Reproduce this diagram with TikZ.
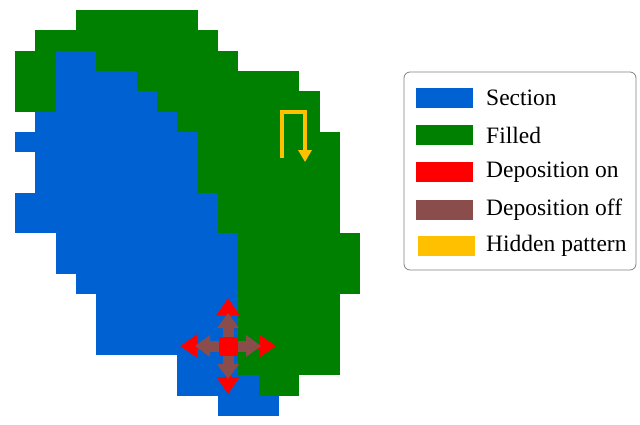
\documentclass[tikz,border=0pt]{standalone}
\usepackage{fontspec}
\setmainfont{Liberation Serif}
\usetikzlibrary{arrows.meta}
\definecolor{sec}{HTML}{0062D2}
\definecolor{fil}{HTML}{008000}
\definecolor{don}{HTML}{FF0000}
\definecolor{doff}{HTML}{8B4C4C}
\definecolor{hid}{HTML}{FFC000}
\newcommand\seg[4]{\fill[#4] ({15+#2*20.3},{10+#1*20.3}) rectangle ({15+(#3+1)*20.3},{10+(#1+1)*20.3});}
\begin{document}
\begin{tikzpicture}[x=1pt,y=-1pt,
  sw/.style={minimum width=57pt,minimum height=20pt,inner sep=0pt},
  lab/.style={anchor=west,font=\fontsize{23.5}{24}\selectfont,inner sep=0pt}]
\useasboundingbox (0,0) rectangle (640,424);
\seg{0}{3}{8}{fil}
\seg{1}{1}{9}{fil}
\seg{2}{0}{1}{fil}\seg{2}{2}{3}{sec}\seg{2}{4}{10}{fil}
\seg{3}{0}{1}{fil}\seg{3}{2}{5}{sec}\seg{3}{6}{13}{fil}
\seg{4}{0}{1}{fil}\seg{4}{2}{6}{sec}\seg{4}{7}{14}{fil}
\seg{5}{1}{7}{sec}\seg{5}{8}{14}{fil}
\seg{6}{0}{8}{sec}\seg{6}{9}{15}{fil}
\seg{7}{1}{8}{sec}\seg{7}{9}{15}{fil}
\seg{8}{1}{8}{sec}\seg{8}{9}{15}{fil}
\seg{9}{0}{9}{sec}\seg{9}{10}{15}{fil}
\seg{10}{0}{9}{sec}\seg{10}{10}{15}{fil}
\seg{11}{2}{10}{sec}\seg{11}{11}{16}{fil}
\seg{12}{2}{10}{sec}\seg{12}{11}{16}{fil}
\seg{13}{3}{10}{sec}\seg{13}{11}{16}{fil}
\seg{14}{4}{10}{sec}\seg{14}{11}{15}{fil}
\seg{15}{4}{10}{sec}\seg{15}{11}{15}{fil}
\seg{16}{4}{10}{sec}\seg{16}{11}{15}{fil}
\seg{17}{8}{10}{sec}\seg{17}{11}{15}{fil}
\seg{18}{8}{11}{sec}\seg{18}{12}{13}{fil}
\seg{19}{10}{12}{sec}
% hidden pattern
\draw[hid,line width=4pt,-{Triangle[length=12pt,width=13pt]}] (282,158) -- (282,112) -- (305,112) -- (305,162);
% deposition arrows
\coordinate (c) at (228,346);
\foreach \dx/\dy in {0/-1,0/1,-1/0,1/0}{
  \draw[don,line width=6pt,-{Triangle[length=17pt,width=22pt]}] (c) -- ++({48*\dx},{48*\dy});
}
\foreach \dx/\dy in {0/-1,0/1,-1/0,1/0}{
  \draw[doff,line width=11pt,-{Triangle[length=15pt,width=21pt]}] (c) -- ++({33*\dx},{33*\dy});
}
\node[fill=don,minimum size=19pt,inner sep=0pt] (sq) at (c) {};
% legend
\draw[gray,rounded corners=6pt,line width=0.8pt] (404,72) rectangle (636,270);
\node[sw,fill=sec] (s1) at (444.5,98) {};
\node[sw,fill=fil] (s2) at (444.5,135) {};
\node[sw,fill=don] (s3) at (444.5,172) {};
\node[sw,fill=doff] (s4) at (444.5,210) {};
\node[sw,fill=hid] (s5) at (446.5,246) {};
\node[lab] (t1) at (486,98) {Section};
\node[lab] (t2) at (486,135) {Filled};
\node[lab] (t3) at (486,172) {Deposition on};
\node[lab] (t4) at (486,210) {Deposition off};
\node[lab] (t5) at (486,246) {Hidden pattern};
\end{tikzpicture}
\end{document}
